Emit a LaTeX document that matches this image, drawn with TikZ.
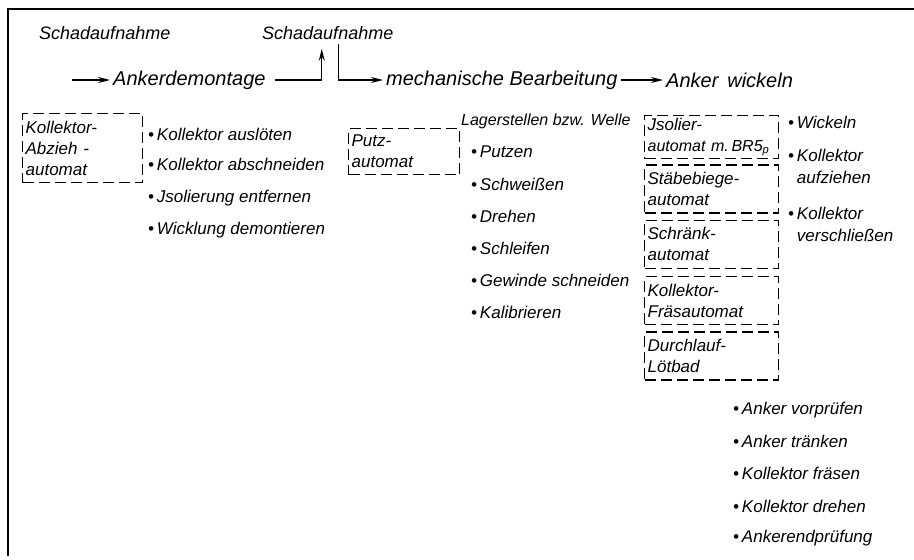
\documentclass[tikz,border=0pt]{standalone}
\usepackage{fontspec}
\setmainfont{Liberation Sans}
\usetikzlibrary{positioning,arrows.meta}

\begin{document}
\begin{tikzpicture}[x=1pt,y=-1pt,
    txt/.style={font=\itshape\fontsize{17}{22}\selectfont,inner sep=0pt,anchor=west,align=left},
    head/.style={txt,font=\itshape\fontsize{18}{22}\selectfont},
    flow/.style={txt,font=\itshape\fontsize{20}{24}\selectfont},
    machine/.style={draw,line width=1.3pt,dash pattern=on 11pt off 5pt,anchor=north west,
        minimum width=134pt,minimum height=48pt,text width=128pt,inner xsep=3pt,inner ysep=2pt,align=left,
        font=\itshape\fontsize{17}{21}\selectfont},
    arr/.style={line width=1.3pt,-{Stealth[length=12pt,width=6pt]}}]
    \useasboundingbox (0,0) rectangle (914,560);
    % frame
    \draw[line width=1.5pt] (8,556) -- (8,9) -- (914,9);

    % flow line
    \node[head] (schad1) at (39,33) {Schadaufnahme};
    \node[head] (schad2) at (262,33) {Schadaufnahme};
    \node[flow] (demont) at (113,80) {Ankerdemontage};
    \node[flow] (mech) at (386,80) {mechanische Bearbeitung};
    \node[flow] (wickeln) at (666,80) {Anker\ \,wickeln};
    \coordinate (entry) at (72,80);

    \draw[arr] (entry) -- ([xshift=-3pt]demont.west);
    \draw[arr] ([xshift=9pt]demont.east) -| ([xshift=-6pt,yshift=-9pt]schad2.south);
    \draw[arr] ([xshift=11pt,yshift=-4pt]schad2.south) |- ([xshift=-3pt]mech.west);
    \draw[arr] ([xshift=3pt]mech.east) -- ([xshift=-3pt]wickeln.west);

    % Ankerdemontage
    \node[machine,minimum width=120pt,minimum height=69pt,text width=114pt] (abzieh) at (22,113) {Kollektor-\\Abzieh -\\automat};
    \node[txt] (ausloeten) at (148,134) {•\,Kollektor auslöten};
    \node[txt] (abschneiden) at (148,164) {•\,Kollektor abschneiden};
    \node[txt] (isolierung) at (148,198) {•\,Jsolierung entfernen};
    \node[txt] (wicklung) at (148,230) {•\,Wicklung demontieren};

    % mechanische Bearbeitung
    \node[machine,minimum width=111pt,minimum height=46pt,text width=105pt] (putz) at (348,128) {Putz-\\automat};
    \node[txt,font=\itshape\fontsize{16}{20}\selectfont] (lager) at (461,121) {Lagerstellen bzw. Welle};
    \node[txt] (putzen) at (471,152) {•\,Putzen};
    \node[txt] (schweissen) at (471,184) {•\,Schweißen};
    \node[txt] (drehen) at (471,216) {•\,Drehen};
    \node[txt] (schleifen) at (471,248) {•\,Schleifen};
    \node[txt] (gewinde) at (471,280) {•\,Gewinde schneiden};
    \node[txt] (kalibrieren) at (471,312) {•\,Kalibrieren};

    % Anker wickeln
    \node[machine,minimum height=43pt] (jsolier) at (644,115) {Jsolier-\\\mbox{\fontsize{16}{20}\selectfont automat m.\,BR5\textsubscript{p}}};
    \node[machine,below=5pt of jsolier] (staebe) {Stäbebiege-\\automat};
    \node[machine,below=6pt of staebe] (schraenk) {Schränk-\\automat};
    \node[machine,below=7pt of schraenk] (fraes) {Kollektor-\\Fräsautomat};
    \node[machine,below=6pt of fraes] (loetbad) {Durchlauf-\\Lötbad};
    \node[txt] (wickelnb) at (788,122) {•\,Wickeln};
    \node[txt] (aufziehen) at (788,166) {•\,Kollektor\\\hphantom{•\,}aufziehen};
    \node[txt] (verschliessen) at (788,224) {•\,Kollektor\\\hphantom{•\,}verschließen};

    % Pruefung
    \node[txt] (vorpruefen) at (733,410) {•\,Anker vorprüfen};
    \node[txt] (traenken) at (733,441) {•\,Anker tränken};
    \node[txt] (kfraesen) at (733,473) {•\,Kollektor fräsen};
    \node[txt] (kdrehen) at (733,506) {•\,Kollektor drehen};
    \node[txt] (endpruefung) at (733,538) {•\,Ankerendprüfung};
\end{tikzpicture}
\end{document}
